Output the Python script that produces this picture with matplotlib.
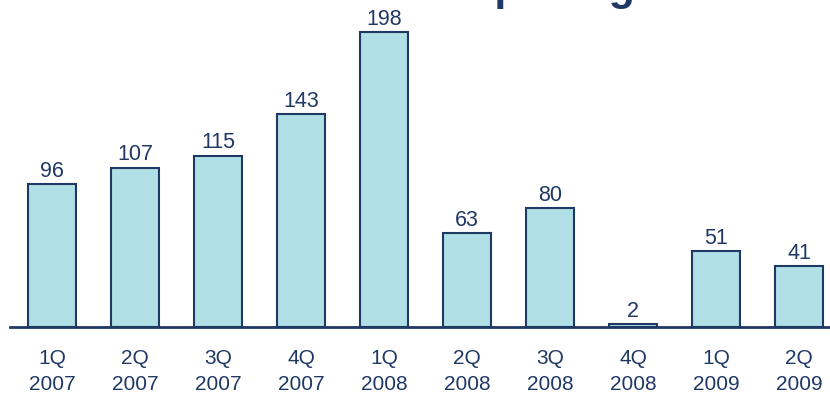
import numpy as np
import matplotlib.pyplot as plt

quarters = ["1Q\n2007", "2Q\n2007", "3Q\n2007", "4Q\n2007", "1Q\n2008",
            "2Q\n2008", "3Q\n2008", "4Q\n2008", "1Q\n2009", "2Q\n2009"]
values = [96, 107, 115, 143, 198, 63, 80, 2, 51, 41]
title = "Net store openings"

navy = "#1f3864"
bar_fill = "#b0dfe5"

plt.rcParams["font.family"] = ["Liberation Sans", "DejaVu Sans"]

fig = plt.figure(figsize=(8.3, 4.03), dpi=100)
ax = fig.add_axes([0.012, 0.1886, 0.988, 0.8114])

x = np.arange(len(values))
bars = ax.bar(x, values, width=0.58, color=bar_fill, edgecolor=navy, linewidth=1.5, zorder=2)
for xi, v in zip(x, values):
    ax.text(xi, v + 1.5, str(v), ha="center", va="bottom", fontsize=15.5, color=navy)

ax.set_xlim(-0.506, 9.37)
ax.set_ylim(0, 219.5)
ax.set_xticks(x)
ax.set_xticklabels(quarters, fontsize=15, color=navy, linespacing=1.45)
ax.tick_params(axis="x", length=0, pad=16)
ax.set_yticks([])
for s in ["top", "right", "left"]:
    ax.spines[s].set_visible(False)
ax.spines["bottom"].set_color(navy)
ax.spines["bottom"].set_linewidth(2)
ax.patch.set_visible(False)

# big heading sits mostly above the canvas
fig.text(0.56, 1.0, title, ha="center", va="baseline",
         fontsize=31, fontweight="bold", color=navy)

fig.savefig("out.png", dpi=100)
